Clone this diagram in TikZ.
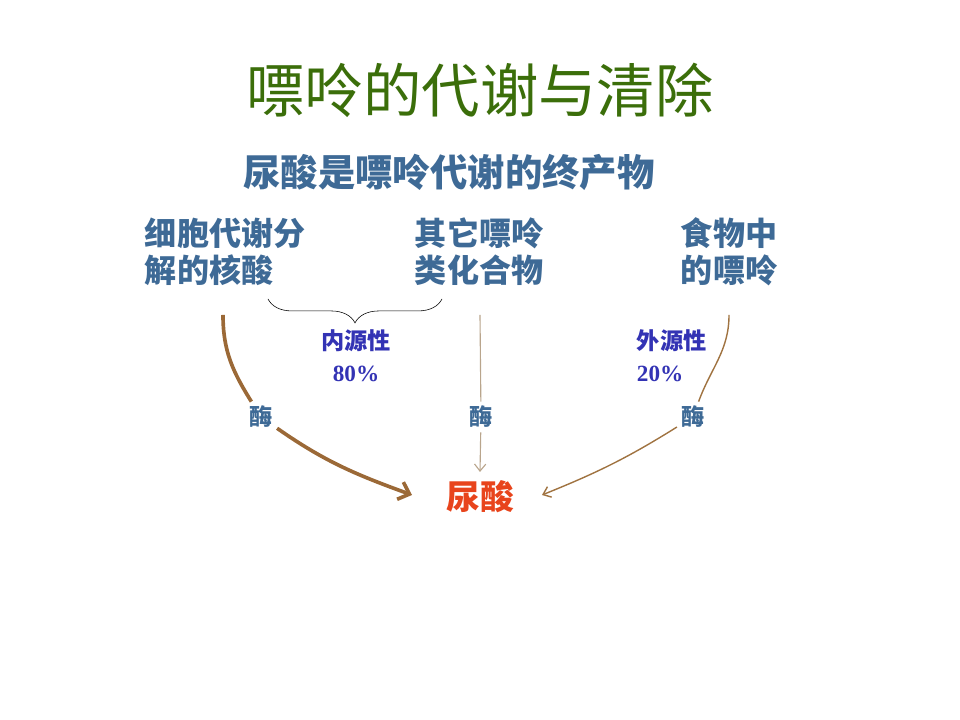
\documentclass[tikz,border=0pt]{standalone}
\usepackage{fontspec}
\setmainfont{Liberation Serif}
\newfontfamily\cjk{Noto Sans CJK SC}
\usetikzlibrary{arrows.meta,decorations.pathreplacing}

\definecolor{titlegreen}{RGB}{59,110,10}
\definecolor{textblue}{RGB}{62,106,150}
\definecolor{sourceblue}{RGB}{51,51,180}
\definecolor{uricred}{RGB}{232,68,28}
\definecolor{pathbrown}{RGB}{155,105,55}
\definecolor{palebrown}{RGB}{185,165,140}
\definecolor{thinbrown}{RGB}{160,115,65}

\begin{document}
\begin{tikzpicture}[x=0.025cm,y=0.025cm,
  source/.style={anchor=west,align=left,text=textblue,font=\cjk\bfseries\fontsize{22.8}{26.3}\selectfont},
  share/.style={text=sourceblue,font=\bfseries\fontsize{16.5}{22.8}\selectfont},
  enzyme/.style={text=textblue,inner sep=3pt,font=\cjk\bfseries\fontsize{16.5}{20}\selectfont}]

\useasboundingbox (0,0) rectangle (960,720);

% Titles
\node[text=titlegreen,font=\cjk\fontsize{41.5}{48}\selectfont] (title) at (480,630) {嘌呤的代谢与清除};
\node[text=textblue,font=\cjk\bfseries\fontsize{26.6}{32}\selectfont] (subtitle) at (449,548) {尿酸是嘌呤代谢的终产物};

% Sources
\node[source] (cell) at (140,468) {细胞代谢分\\解的核酸};
\node[source] (other) at (410,468) {其它嘌呤\\类化合物};
\node[source] (food) at (676,468) {食物中\\的嘌呤};

% Brace over the endogenous part
\coordinate (braceL) at (268,421);
\coordinate (braceR) at (442,421);
\draw[decorate,decoration={brace,mirror,amplitude=17pt}] (braceL) -- (braceR);

% Shares
\node[share,align=center] (endo) at (356,364) {{\cjk 内源性}\\80\%};
\node[share,align=left,anchor=west] (exo) at (632,364) {{\cjk 外源性}\\20\%};

% Uric acid
\node[text=uricred,font=\cjk\bfseries\fontsize{24}{28}\selectfont] (uric) at (480,223) {尿酸};

% Enzyme labels
\node[enzyme] (enzL) at (261,303) {酶};
\node[enzyme] (enzM) at (481,303) {酶};
\node[enzyme] (enzR) at (693,303) {酶};

% Start and end points
\coordinate (startL) at (223,405);
\coordinate (startM) at (480,405);
\coordinate (startR) at (729,405);
\coordinate (endL) at (412,225);
\coordinate (endM) at (480,248);
\coordinate (endR) at (542,225);

% Left pathway (thick)
\draw[pathbrown,line width=2.6pt] (startL) to[out=-90,in=122] (enzL);
\draw[pathbrown,line width=2.6pt,-{Straight Barb[length=7pt,width=13pt]}] (enzL) to[out=-35,in=160] (endL);

% Middle pathway
\draw[palebrown,line width=0.8pt] (startM) -- (enzM);
\draw[palebrown,line width=0.8pt,-{Straight Barb[length=5pt,width=8pt]}] (enzM) -- (endM);

% Right pathway
\draw[thinbrown,line width=1pt] (startR) to[out=-90,in=70] (enzR);
\draw[thinbrown,line width=1pt,-{Straight Barb[length=5pt,width=8pt]}] (enzR) to[out=-148,in=22] (endR);

\end{tikzpicture}
\end{document}
